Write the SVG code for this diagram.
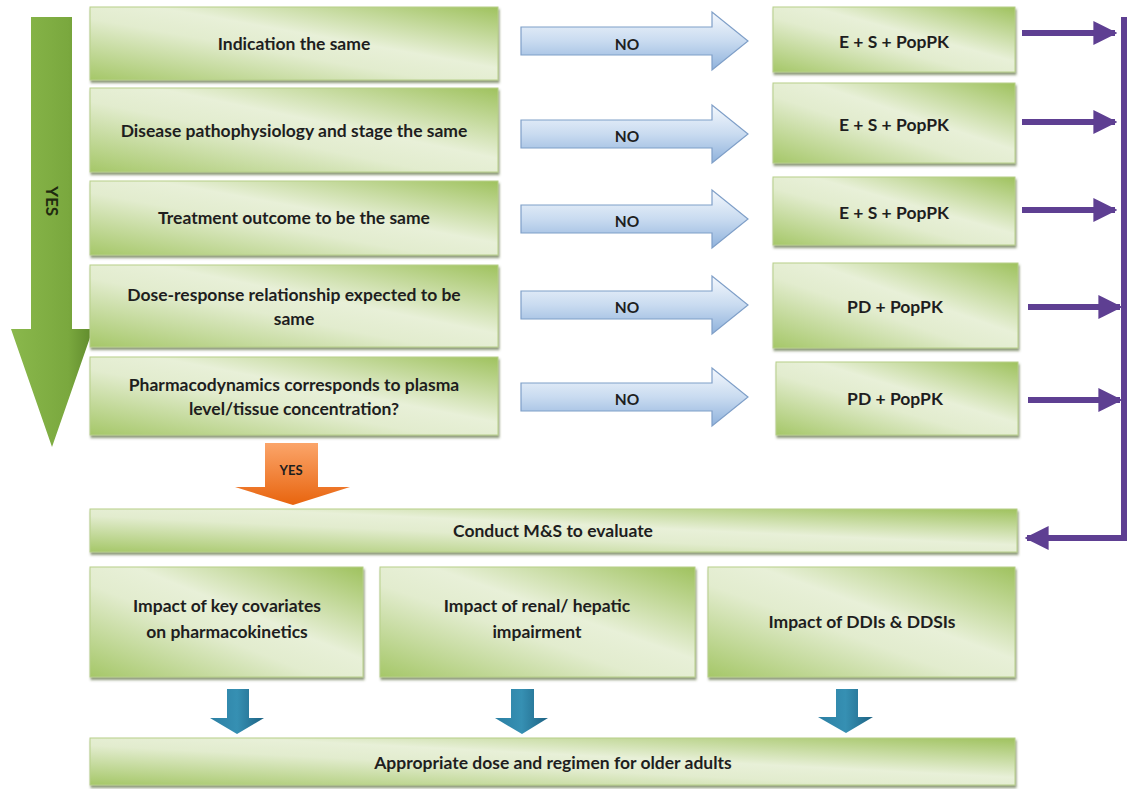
<svg xmlns="http://www.w3.org/2000/svg" width="1130" height="789" viewBox="0 0 1130 789">
<defs>
<linearGradient id="gBox" x1="1" y1="0" x2="0" y2="1">
<stop offset="0" stop-color="#9fc25e"/>
<stop offset="0.42" stop-color="#e8f0d8"/>
<stop offset="0.58" stop-color="#e2ecce"/>
<stop offset="1" stop-color="#a5c768"/>
</linearGradient>
<linearGradient id="gBlue" x1="0" y1="0" x2="0" y2="1">
<stop offset="0" stop-color="#f4f8fd"/>
<stop offset="0.5" stop-color="#c9dbf0"/>
<stop offset="1" stop-color="#8fb2dc"/>
</linearGradient>
<linearGradient id="gBig" x1="0" y1="0" x2="1" y2="0">
<stop offset="0" stop-color="#8ab84c"/>
<stop offset="0.7" stop-color="#7aa83e"/>
<stop offset="1" stop-color="#5f8a2c"/>
</linearGradient>
<linearGradient id="gOrange" x1="0" y1="0" x2="0" y2="1">
<stop offset="0" stop-color="#fba56a"/>
<stop offset="1" stop-color="#e8640e"/>
</linearGradient>
<linearGradient id="gTeal" x1="0" y1="0" x2="1" y2="0">
<stop offset="0" stop-color="#2b7fa3"/>
<stop offset="0.5" stop-color="#3690b3"/>
<stop offset="1" stop-color="#1d6283"/>
</linearGradient>
<filter id="sh" x="-5%" y="-10%" width="110%" height="130%">
<feDropShadow dx="1" dy="2.5" stdDeviation="1" flood-color="#4f6230" flood-opacity="0.65"/>
</filter>
<marker id="mP" viewBox="0 0 10 10" refX="9" refY="5" markerWidth="4" markerHeight="4" orient="auto" markerUnits="strokeWidth">
<path d="M0,0 L10,5 L0,10 z" fill="#5e3f92"/>
</marker>
</defs>
<style>
.box{fill:url(#gBox);stroke:#b7cf8a;stroke-width:1;filter:url(#sh)}
.t{font-family:Lato,"Liberation Sans",sans-serif;font-weight:bold;font-size:17.5px;fill:#1e1e1e;text-anchor:middle}
.no{font-size:15.5px}
.blue{fill:url(#gBlue);stroke:#7f9fc8;stroke-width:1.2}
.pl{fill:none;stroke:#5e3f92;stroke-width:6}
.teal{fill:url(#gTeal)}
</style>

<g id="yes-arrow">
<path d="M31,17 H72 V329 H93 L52,447 L11,329 H31 Z" fill="url(#gBig)"/>
<text class="t" x="0" y="0" transform="translate(46,201) rotate(90)" style="font-size:17px;fill:#1f2a10">YES</text>
</g>

<g id="n1"><rect class="box" x="90" y="7" width="408" height="73"/><text class="t" x="294" y="50">Indication the same</text></g>
<g id="n2"><rect class="box" x="90" y="88" width="408" height="84"/><text class="t" x="294" y="137">Disease pathophysiology and stage the same</text></g>
<g id="n3"><rect class="box" x="90" y="181" width="408" height="74"/><text class="t" x="294" y="224">Treatment outcome to be the same</text></g>
<g id="n4"><rect class="box" x="90" y="265" width="408" height="82"/><text class="t" x="294" y="301">Dose-response relationship expected to be</text><text class="t" x="294" y="325">same</text></g>
<g id="n5"><rect class="box" x="90" y="357" width="408" height="78"/><text class="t" x="294" y="391">Pharmacodynamics corresponds to plasma</text><text class="t" x="294" y="415">level/tissue concentration?</text></g>

<g id="r1"><rect class="box" x="773" y="7" width="242" height="65"/><text class="t" x="894" y="48">E + S + PopPK</text></g>
<g id="r2"><rect class="box" x="773" y="83" width="242" height="80"/><text class="t" x="894" y="131">E + S + PopPK</text></g>
<g id="r3"><rect class="box" x="773" y="177" width="242" height="68"/><text class="t" x="894" y="219">E + S + PopPK</text></g>
<g id="r4"><rect class="box" x="773" y="263" width="245" height="85"/><text class="t" x="895" y="313">PD + PopPK</text></g>
<g id="r5"><rect class="box" x="776" y="362" width="242" height="73"/><text class="t" x="895" y="405">PD + PopPK</text></g>

<g id="yes2">
<path d="M265,443 H318 V487 H350 L293,505 L235,487 H265 Z" fill="url(#gOrange)"/>
<text class="t" x="291" y="475" style="font-size:13px">YES</text>
</g>

<g id="conduct"><rect class="box" x="90" y="509" width="927" height="43"/><text class="t" x="553" y="537">Conduct M&amp;S to evaluate</text></g>

<g id="b1"><rect class="box" x="90" y="567" width="273" height="110"/><text class="t" x="227" y="612">Impact of key covariates</text><text class="t" x="227" y="638">on pharmacokinetics</text></g>
<g id="b2"><rect class="box" x="380" y="567" width="315" height="110"/><text class="t" x="537" y="612">Impact of renal/ hepatic</text><text class="t" x="537" y="638">impairment</text></g>
<g id="b3"><rect class="box" x="708" y="567" width="307" height="110"/><text class="t" x="862" y="628">Impact of DDIs &amp; DDSIs</text></g>

<g id="final"><rect class="box" x="90" y="738" width="925" height="47"/><text class="t" x="553" y="769">Appropriate dose and regimen for older adults</text></g>

<g id="connectors">
<g>
<path class="blue" d="M521,27 H712 V12 L748,41 L712,70 V55 H521 Z"/><text class="t no" x="627" y="50">NO</text>
<path class="blue" d="M521,120 H712 V105 L748,134 L712,163 V148 H521 Z"/><text class="t no" x="627" y="142">NO</text>
<path class="blue" d="M521,205 H712 V190 L748,219 L712,248 V233 H521 Z"/><text class="t no" x="627" y="227">NO</text>
<path class="blue" d="M521,291 H712 V276 L748,305 L712,334 V319 H521 Z"/><text class="t no" x="627" y="313">NO</text>
<path class="blue" d="M521,383 H712 V368 L748,397 L712,426 V411 H521 Z"/><text class="t no" x="627" y="405">NO</text>
</g>
<g>
<line class="pl" x1="1022" y1="33" x2="1115" y2="33" marker-end="url(#mP)"/>
<line class="pl" x1="1022" y1="122" x2="1115" y2="122" marker-end="url(#mP)"/>
<line class="pl" x1="1022" y1="210" x2="1115" y2="210" marker-end="url(#mP)"/>
<line class="pl" x1="1028" y1="307" x2="1120" y2="307" marker-end="url(#mP)"/>
<line class="pl" x1="1028" y1="400" x2="1120" y2="400" marker-end="url(#mP)"/>
<polyline class="pl" points="1124,17 1124,538 1027,538" marker-end="url(#mP)" stroke-width="5"/>
</g>
<g>
<path class="teal" d="M227,689 H249 V718 H264 L237,734 L210,718 H227 Z"/>
<path class="teal" d="M511,689 H534 V718 H548 L522,734 L495,718 H511 Z"/>
<path class="teal" d="M836,689 H858 V717 H873 L846,733 L818,717 H836 Z"/>
</g>
</g>
</svg>
